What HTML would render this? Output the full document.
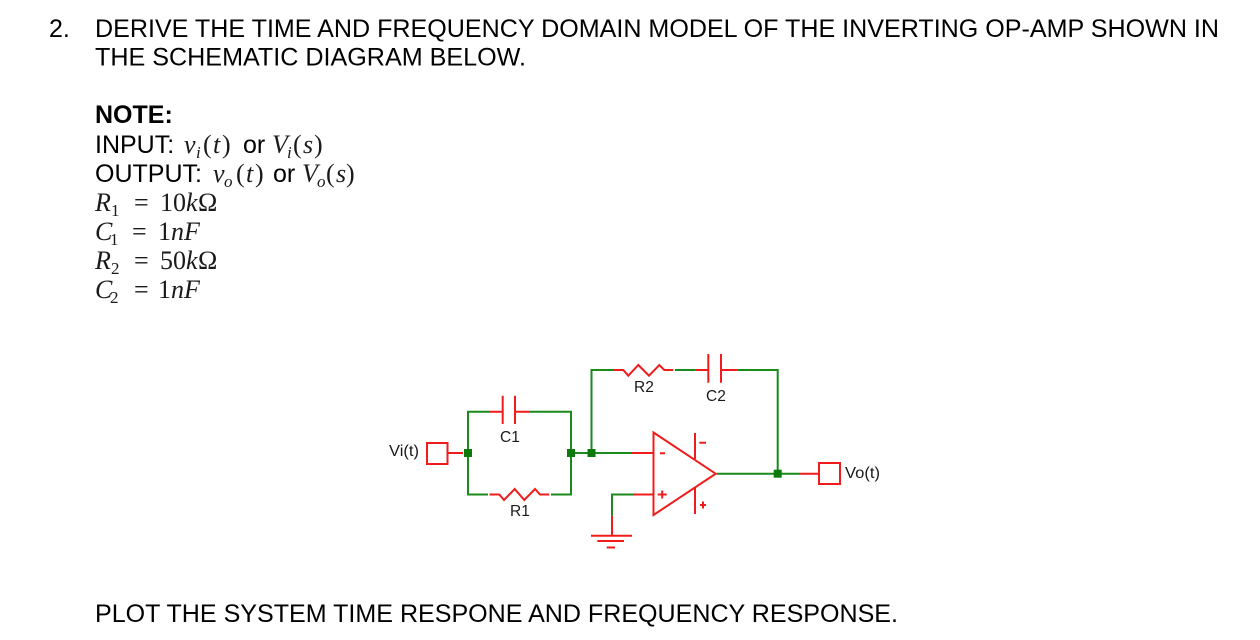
<!DOCTYPE html>
<html><head><meta charset="utf-8"><style>
html,body{margin:0;padding:0;background:#fff}
svg{display:block}
.t{font:25px "Liberation Sans",sans-serif;fill:#000}
.m{font:italic 26px "Liberation Serif",serif;fill:#1a1a1a}
.r{font:26px "Liberation Serif",serif;fill:#1a1a1a}
.s{font:italic 17px "Liberation Serif",serif;fill:#1a1a1a}
.n{font:17px "Liberation Serif",serif;fill:#1a1a1a}
.l{font:15.5px "Liberation Sans",sans-serif;fill:#1a1a1a}
.g{stroke:#1a8a1a;stroke-width:2;fill:none}
.d{stroke:#f01c1c;stroke-width:2;fill:none}
.k{fill:#0a7a0a}
</style></head><body>
<svg width="1260" height="640" viewBox="0 0 1260 640" xmlns="http://www.w3.org/2000/svg">
<rect width="1260" height="640" fill="#fff"/>
<text class="t" x="49" y="37">2.</text>
<text class="t" x="95" y="37" textLength="1124" lengthAdjust="spacingAndGlyphs">DERIVE THE TIME AND FREQUENCY DOMAIN MODEL OF THE INVERTING OP-AMP SHOWN IN</text>
<text class="t" x="95" y="65.5" textLength="431" lengthAdjust="spacingAndGlyphs">THE SCHEMATIC DIAGRAM BELOW.</text>
<text class="t" x="95" y="123" style="font-weight:bold">NOTE:</text>
<text class="t" x="95" y="153">INPUT:</text>
<text class="m" x="184" y="153">v</text><text class="s" x="196" y="158">i</text><text class="r" x="203" y="153">(</text><text class="m" x="213" y="153">t</text><text class="r" x="222" y="153">)</text>
<text class="t" x="243" y="153">or</text>
<text class="m" x="272" y="153">V</text><text class="s" x="287" y="158">i</text><text class="r" x="293" y="153">(</text><text class="m" x="303" y="153">s</text><text class="r" x="314" y="153">)</text>
<text class="t" x="95" y="182">OUTPUT:</text>
<text class="m" x="213" y="182">v</text><text class="s" x="224" y="187">o</text><text class="r" x="236" y="182">(</text><text class="m" x="246" y="182">t</text><text class="r" x="255" y="182">)</text>
<text class="t" x="273" y="182">or</text>
<text class="m" x="302" y="182">V</text><text class="s" x="317" y="187">o</text><text class="r" x="326" y="182">(</text><text class="m" x="336" y="182">s</text><text class="r" x="346" y="182">)</text>
<text class="m" x="95" y="211">R</text><text class="n" x="111" y="216">1</text><text class="r" x="134" y="211">=</text><text class="r" x="160" y="211">10</text><text class="m" x="186" y="211">k</text><text class="r" x="198" y="211">Ω</text>
<text class="m" x="95" y="240">C</text><text class="n" x="110" y="245">1</text><text class="r" x="132" y="240">=</text><text class="r" x="158" y="240">1</text><text class="m" x="171" y="240">nF</text>
<text class="m" x="95" y="269">R</text><text class="n" x="111" y="274">2</text><text class="r" x="134" y="269">=</text><text class="r" x="160" y="269">50</text><text class="m" x="186" y="269">k</text><text class="r" x="198" y="269">Ω</text>
<text class="m" x="95" y="298">C</text><text class="n" x="110" y="303">2</text><text class="r" x="134" y="298">=</text><text class="r" x="158" y="298">1</text><text class="m" x="171" y="298">nF</text>
<text class="t" x="95" y="622" textLength="803" lengthAdjust="spacingAndGlyphs">PLOT THE SYSTEM TIME RESPONE AND FREQUENCY RESPONSE.</text>

<!-- wires -->
<path class="g" d="M489 411.7H468V494.5H488M529 411.7H571V494.5H551M571 453H632M612 515.7V494.5H633M613 370H591.5V453M675 370H695.7M737.3 370H777.7V473.7M716.7 473.7H799"/>
<!-- components -->
<path class="d" d="M447.5 453H463M489 411.7H502.7M515 411.7H529M502.7 395.7V424M515 395.7V424"/>
<path class="d" d="M489.5 494.5H499.3L504 500L514.7 489L524.3 500L535 489L540 494.5H549.3"/>
<path class="d" d="M613 370H623.3L628.3 375.7L638.3 365L649 375.7L659.3 365L664.3 370H673.3"/>
<path class="d" d="M695.7 370H708.3M721 370H737.3M708.3 354V382.7M721 354V382.7"/>
<rect class="d" x="427" y="443" width="20.5" height="21"/>
<rect class="d" x="819" y="463" width="21" height="21"/>
<path class="d" d="M632 453H653.5M633 494.5H653.5M653.5 432.5L715.7 473.7L653.5 515Z"/>
<path class="d" d="M799 473.7H818.7M695 433V459M695 487.7V514"/>
<path class="d" d="M660 453.3H665M657.7 494.5H666.7M662.2 490.5V498.5M699.3 442.7H706M700 505H706M703 501.5V508.5"/>
<path class="d" d="M612 515.7V535.7M591 535.7H632M597.3 541H624M606.7 547.5H615"/>
<!-- nodes -->
<rect class="k" x="464" y="449" width="8" height="8"/>
<rect class="k" x="567" y="449" width="8" height="8"/>
<rect class="k" x="587.5" y="449" width="8" height="8"/>
<rect class="k" x="773.7" y="469.7" width="8" height="8"/>
<!-- labels -->
<text class="l" x="389" y="456" textLength="30" lengthAdjust="spacingAndGlyphs">Vi(t)</text>
<text class="l" x="500" y="442">C1</text>
<text class="l" x="510" y="516">R1</text>
<text class="l" x="634" y="392">R2</text>
<text class="l" x="706" y="401">C2</text>
<text class="l" x="845" y="478" textLength="35" lengthAdjust="spacingAndGlyphs">Vo(t)</text>
</svg>
</body></html>
